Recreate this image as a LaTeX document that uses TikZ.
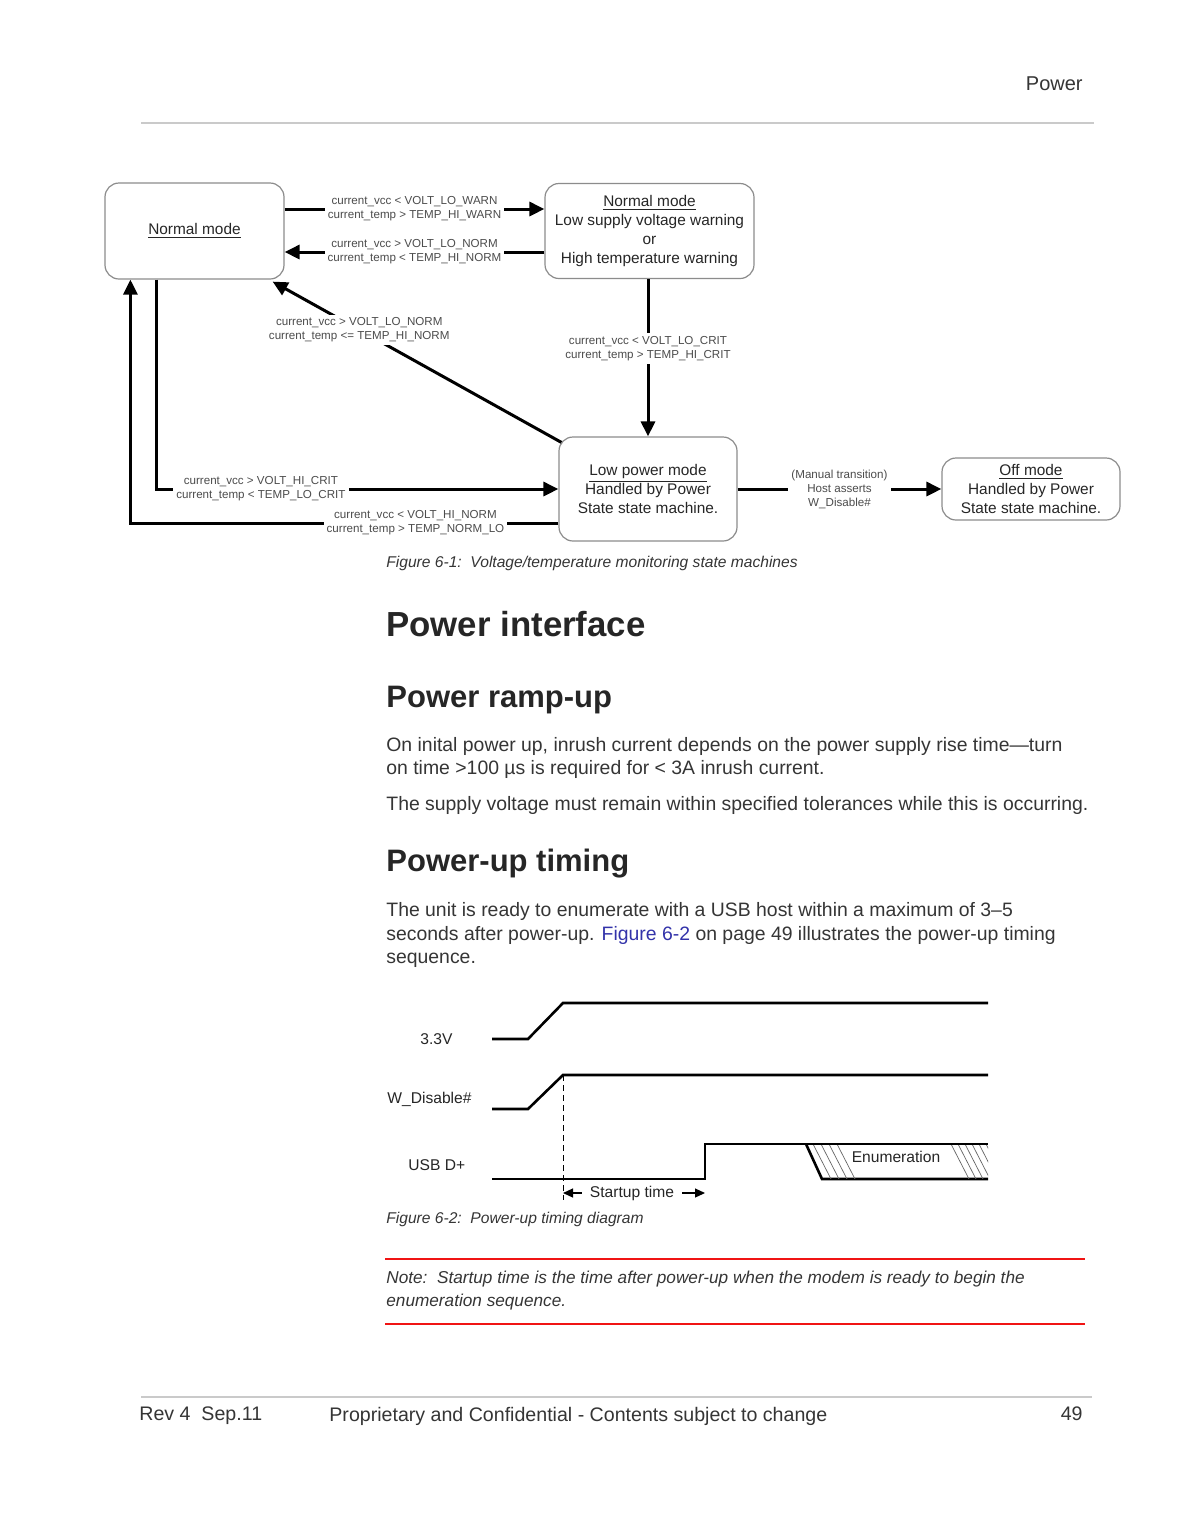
\documentclass[tikz,border=0pt]{standalone}
\usepackage{fontspec}
\setmainfont{Liberation Sans}
\usetikzlibrary{arrows.meta}
\definecolor{PGText}{HTML}{353535}
\definecolor{PGLink}{HTML}{3333AA}
\definecolor{PGRule}{HTML}{CACACA}
\definecolor{PGRed}{HTML}{F01414}

\begin{document}
\begin{tikzpicture}[x=0.5pt, y=-0.5pt,
  statebox/.style={draw=black!45, line width=0.6pt, rounded corners=7pt, align=center, text=black!85, font=\fontsize{7.7}{9.6}\selectfont, inner sep=2pt},
  cond/.style={fill=white, inner sep=1.5pt, align=center, text=black!70, font=\fontsize{5.8}{7}\selectfont},
  trans/.style={line width=1.5pt, -{Triangle[length=7.5pt,width=7pt]}},
  sig/.style={line width=1.3pt, line join=miter},
  hatch/.style={line width=0.35pt, black!60},
  body/.style={anchor=west, inner sep=0pt, align=left, text=PGText, font=\fontsize{9.7}{11.6}\selectfont},
  head/.style={anchor=west, inner sep=0pt, text=black!85, font=\bfseries\fontsize{#1}{#1}\selectfont},
  caption/.style={anchor=west, inner sep=0pt, text=PGText, font=\itshape\fontsize{7.8}{10}\selectfont},
  siglabel/.style={anchor=west, inner sep=0pt, text=black!85, font=\fontsize{7.8}{9}\selectfont},
  pagerule/.style={PGRule, line width=1pt},
  noterule/.style={PGRed, line width=1.3pt}
]
\useasboundingbox[fill=white] (0,0) rectangle (1190,1538);

% header and footer
\node[anchor=east, inner sep=0pt, text=PGText, font=\fontsize{10}{12}\selectfont] (hdr) at (1083,84) {Power};
\draw[pagerule] (141,123) -- (1094,123);
\draw[pagerule] (141,1397) -- (1092,1397);
\node[anchor=west, inner sep=0pt, text=PGText, font=\fontsize{9.8}{12}\selectfont] (rev) at (139,1416) {Rev 4\ \ Sep.11};
\node[anchor=west, inner sep=0pt, text=PGText, font=\fontsize{9.8}{12}\selectfont] (conf) at (329,1416) {Proprietary and Confidential - Contents subject to change};
\node[anchor=east, inner sep=0pt, text=PGText, font=\fontsize{9.8}{12}\selectfont] (pnum) at (1083,1414) {49};

% state machine
\node[statebox, minimum width=89.5pt, minimum height=48pt] (norm) at (194.5,231) {\underline{Normal mode}};
\node[statebox, minimum width=104.5pt, minimum height=47.5pt] (warn) at (649.5,231) {\underline{Normal mode}\\Low supply voltage warning\\or\\High temperature warning};
\node[statebox, minimum width=89pt, minimum height=52pt] (lowp) at (648,489) {\underline{Low power mode}\\Handled by Power\\State state machine.};
\node[statebox, minimum width=89pt, minimum height=31pt] (off) at (1031,489) {\underline{Off mode}\\Handled by Power\\State state machine.};

\draw[trans] ([yshift=11pt]norm.east) -- node[cond] {current\_vcc < VOLT\_LO\_WARN\\current\_temp > TEMP\_HI\_WARN} ([yshift=11pt]warn.west);
\draw[trans] ([yshift=-10.5pt]warn.west) -- node[cond] {current\_vcc > VOLT\_LO\_NORM\\current\_temp < TEMP\_HI\_NORM} ([yshift=-10.5pt]norm.east);
\draw[trans] (warn.south -| lowp.north) -- node[cond, pos=0.44] {current\_vcc < VOLT\_LO\_CRIT\\current\_temp > TEMP\_HI\_CRIT} (lowp.north);
\draw[trans] ([shift={(1.5pt,-3pt)}]lowp.north west) -- node[cond, pos=0.7] {current\_vcc > VOLT\_LO\_NORM\\current\_temp <= TEMP\_HI\_NORM} ([shift={(-6pt,-1pt)}]norm.south east);
\draw[trans] ([xshift=26pt]norm.south west) |- node[cond, pos=0.63] {current\_vcc > VOLT\_HI\_CRIT\\current\_temp < TEMP\_LO\_CRIT} (lowp.west);
\draw[trans] ([yshift=-17pt]lowp.west) -| node[cond, pos=0.167] {current\_vcc < VOLT\_HI\_NORM\\current\_temp > TEMP\_NORM\_LO} ([xshift=13pt]norm.south west);
\draw[trans] (lowp.east) -- node[cond] {(Manual transition)\\Host asserts\\W\_Disable\#} (off.west);

\node[caption] (cap1) at (386,563) {Figure 6-1:\ \ Voltage/temperature monitoring state machines};

% text
\node[head=17.4] (h1) at (386,624) {Power interface};
\node[head=15.5] (h2) at (386,700) {Power ramp-up};
\node[body] (p1) at (386,758) {On inital power up, inrush current depends on the power supply rise time—turn\\on time >100 µs is required for < 3A inrush current.};
\node[body] (p2) at (386,805) {The supply voltage must remain within specified tolerances while this is occurring.};
\node[head=15.5] (h3) at (386,864) {Power-up timing};
\node[body] (p3) at (386,935) {The unit is ready to enumerate with a USB host within a maximum of 3–5\\seconds after power-up. \textcolor{PGLink}{Figure 6-2} on page 49 illustrates the power-up timing\\sequence.};

% timing diagram
\node[siglabel] (v33) at (420,1039) {3.3V};
\node[siglabel] (wdis) at (387,1099) {W\_Disable\#};
\node[siglabel] (usbd) at (408,1165) {USB D+};
\draw[sig] (492,1039) -- (528,1039) -- (563,1003) -- (988,1003);
\draw[sig] (492,1109) -- (528,1109) -- (563,1075) -- (988,1075);
\draw[sig] (492,1179) -- (705,1179) -- (705,1144) -- (988,1144);
\draw[sig] (806,1144) -- (822,1179) -- (988,1179);
\begin{scope}
  \clip (807,1145) rectangle (988,1178);
  \foreach \hx in {813,821,829,837}
    \draw[hatch] (\hx,1144) -- ++(18,35);
  \foreach \hx in {951,958,965,972,979,986}
    \draw[hatch] (\hx,1144) -- ++(18,35);
\end{scope}
\node[siglabel, anchor=center] (enum) at (896,1157) {Enumeration};
\draw[densely dashed, line width=0.4pt] (563,1075) -- (563,1200);
\coordinate (stl) at (563,1193);
\coordinate (str) at (705,1193);
\node[siglabel, anchor=center, inner sep=4pt] (start) at (632,1193) {Startup time};
\draw[line width=0.6pt, -{Triangle[length=5pt,width=4.5pt]}] (start.west) -- (stl);
\draw[line width=0.6pt, -{Triangle[length=5pt,width=4.5pt]}] (start.east) -- (str);
\node[caption] (cap2) at (386,1219) {Figure 6-2:\ \ Power-up timing diagram};

% note
\draw[noterule] (385,1259) -- (1085,1259);
\node[body, font=\itshape\fontsize{8.6}{11.5}\selectfont] (note) at (386,1291) {Note:\ \ Startup time is the time after power-up when the modem is ready to begin the\\enumeration sequence.};
\draw[noterule] (385,1324) -- (1085,1324);
\end{tikzpicture}
\end{document}
